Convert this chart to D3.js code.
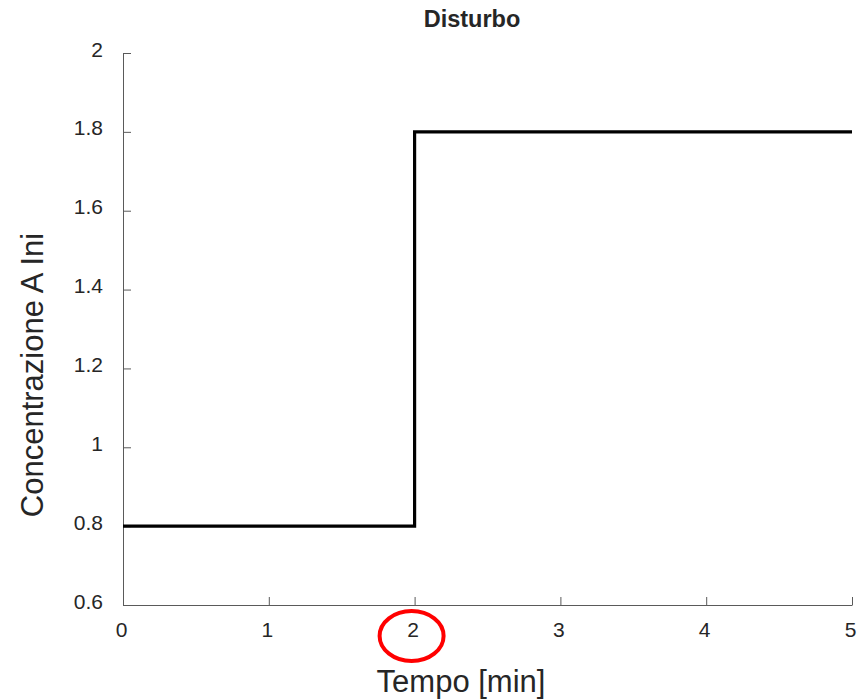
<!DOCTYPE html>
<html>
<head>
<meta charset="utf-8">
<script src="https://cdn.jsdelivr.net/npm/d3@7"></script>
<style>
  body { margin: 0; background: #fff; }
  text { font-family: "Liberation Sans", Arial, sans-serif; fill: #262626; }
</style>
</head>
<body>
<div id="chart"></div>
<script>
// step disturbance data
var timeValues = [0, 2, 2, 5];
var concValues = [0.8, 0.8, 1.8, 1.8];
var xTicks = [0, 1, 2, 3, 4, 5];
var yTicks = [0.6, 0.8, 1, 1.2, 1.4, 1.6, 1.8, 2];

var width = 861, height = 699;
var margin = {top: 53, right: 9, bottom: 94, left: 123};

var svg = d3.select("#chart").append("svg")
    .attr("width", width)
    .attr("height", height);

var x = d3.scaleLinear().domain([0, 5]).range([margin.left, width - margin.right]);
var y = d3.scaleLinear().domain([0.6, 2]).range([height - margin.bottom, margin.top]);

// x axis, ticks pointing inward
var xAxis = svg.append("g")
    .attr("transform", "translate(0," + (height - margin.bottom) + ")")
    .call(d3.axisBottom(x).tickValues(xTicks).tickFormat(d3.format("")).tickSizeInner(-8).tickSizeOuter(0));
xAxis.select(".domain").attr("stroke", "#5a5a5a");
xAxis.selectAll(".tick line").attr("stroke", "#5a5a5a");
xAxis.selectAll("text")
    .attr("y", 32).attr("dy", 0).attr("x", -2)
    .style("font-size", "21px").attr("fill", "#262626");

// y axis
var yAxis = svg.append("g")
    .attr("transform", "translate(" + margin.left + ",0)")
    .call(d3.axisLeft(y).tickValues(yTicks).tickFormat(d3.format("")).tickSizeInner(-8).tickSizeOuter(0));
yAxis.select(".domain").attr("stroke", "#5a5a5a");
yAxis.selectAll(".tick line").attr("stroke", "#5a5a5a");
yAxis.selectAll("text")
    .attr("x", -20).attr("dy", 3).style("font-size", "21px").attr("fill", "#262626");

// the step line
var line = d3.line()
    .x(function(d, i) { return x(timeValues[i]); })
    .y(function(d, i) { return y(concValues[i]); });

svg.append("path")
    .datum(timeValues)
    .attr("fill", "none")
    .attr("stroke", "#000")
    .attr("stroke-width", 3.2)
    .attr("stroke-linejoin", "miter")
    .attr("d", line);

// title and axis labels
svg.append("text")
    .attr("x", 472).attr("y", 27)
    .attr("text-anchor", "middle")
    .style("font-size", "23.5px").style("font-weight", "bold")
    .attr("fill", "#000")
    .text("Disturbo");

svg.append("text")
    .attr("x", 461).attr("y", 692)
    .attr("text-anchor", "middle")
    .style("font-size", "31px")
    .text("Tempo [min]");

svg.append("text")
    .attr("transform", "translate(43,375) rotate(-90)")
    .attr("text-anchor", "middle")
    .style("font-size", "31px")
    .text("Concentrazione A Ini");

// red annotation circle around the "2" tick label
svg.append("ellipse")
    .attr("cx", x(2) - 3).attr("cy", 636)
    .attr("rx", 32).attr("ry", 25)
    .attr("fill", "none")
    .attr("stroke", "#ff0000")
    .attr("stroke-width", 4);
</script>
</body>
</html>
